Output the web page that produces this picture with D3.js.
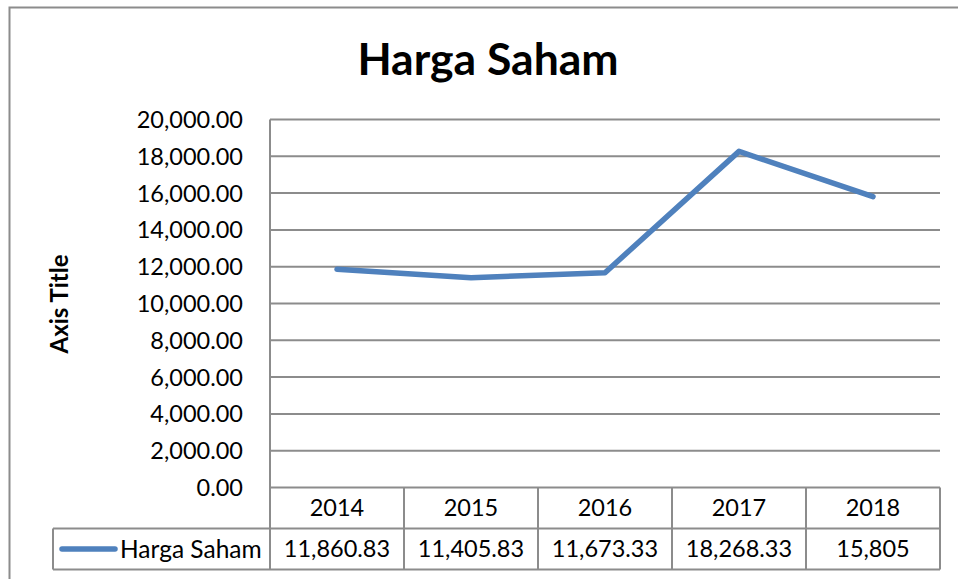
<!DOCTYPE html>
<html><head><meta charset="utf-8">
<script src="https://cdn.jsdelivr.net/npm/d3@7"></script>
<style>html,body{margin:0;padding:0;background:#fff;}svg{display:block;font-family:Lato,"Open Sans",sans-serif;}</style>
</head><body><svg id="c" width="958" height="579"></svg>
<script>
const title = "Harga Saham";
const seriesName = "Harga Saham";
const years = ["2014","2015","2016","2017","2018"];
const values = [11860.83, 11405.83, 11673.33, 18268.33, 15805];
const valueLabels = ["11,860.83","11,405.83","11,673.33","18,268.33","15,805"];
const yTicks = [0,2000,4000,6000,8000,10000,12000,14000,16000,18000,20000];
const yAxisTitle = "Axis Title";

const svg = d3.select("#c");
const L = 270, R = 940, T = 119.5, B = 487.5;
const rowH = 41;
const grid = "#8c8c8c", lineColor = "#4f81bd";

// outer border
svg.append("path").attr("d","M9.5,579 V7.5 H958").attr("fill","none").attr("stroke","#8c8c8c").attr("stroke-width",2);

const x = d3.scaleBand().domain(years).range([L,R]);
const y = d3.scaleLinear().domain([0,20000]).range([B,T]);

// gridlines
svg.append("g").selectAll("line").data(yTicks).join("line")
  .attr("x1",L).attr("x2",R).attr("y1",d=>y(d)).attr("y2",d=>y(d))
  .attr("stroke",grid).attr("stroke-width",2);

// y axis labels
const fmt = d3.format(",.2f");
svg.append("g").selectAll("text").data(yTicks).join("text")
  .attr("x",243).attr("y",d=>y(d)).attr("dy","0.36em").attr("text-anchor","end")
  .attr("font-size",23.5).attr("fill","#000").text(d=>fmt(d));

// axis title
svg.append("text").attr("transform","translate(68,304) rotate(-90)").attr("text-anchor","middle")
  .attr("font-size",24).attr("font-weight","bold").text(yAxisTitle);

// title
svg.append("text").attr("x",488).attr("y",75).attr("text-anchor","middle")
  .attr("font-size",44.5).attr("font-weight","bold").text(title);

// data table
const tb = svg.append("g");
tb.append("line").attr("x1",L).attr("x2",L).attr("y1",T).attr("y2",B+2*rowH).attr("stroke",grid).attr("stroke-width",2);
tb.selectAll(".v").data(years).join("line")
  .attr("x1",d=>x(d)+x.bandwidth()).attr("x2",d=>x(d)+x.bandwidth())
  .attr("y1",B).attr("y2",B+2*rowH).attr("stroke",grid).attr("stroke-width",2);
tb.append("line").attr("x1",53).attr("x2",R).attr("y1",B+rowH).attr("y2",B+rowH).attr("stroke",grid).attr("stroke-width",2);
tb.append("line").attr("x1",53).attr("x2",R).attr("y1",B+2*rowH).attr("y2",B+2*rowH).attr("stroke",grid).attr("stroke-width",2);
tb.append("line").attr("x1",53).attr("x2",53).attr("y1",B+rowH).attr("y2",B+2*rowH).attr("stroke",grid).attr("stroke-width",2);

tb.selectAll(".yr").data(years).join("text")
  .attr("x",d=>x(d)+x.bandwidth()/2).attr("y",B+rowH/2).attr("dy","0.36em")
  .attr("text-anchor","middle").attr("font-size",23.5).text(d=>d);
tb.selectAll(".val").data(valueLabels).join("text")
  .attr("x",(d,i)=>x(years[i])+x.bandwidth()/2).attr("y",B+rowH*1.5).attr("dy","0.36em")
  .attr("text-anchor","middle").attr("font-size",23.5).text(d=>d);
tb.append("line").attr("x1",62).attr("x2",115).attr("y1",B+rowH*1.5).attr("y2",B+rowH*1.5)
  .attr("stroke",lineColor).attr("stroke-width",5.5).attr("stroke-linecap","round");
tb.append("text").attr("x",120).attr("y",B+rowH*1.5).attr("dy","0.36em").attr("font-size",24.5).text(seriesName);

// line
const line = d3.line().x((d,i)=>x(years[i])+x.bandwidth()/2).y(d=>y(d));
svg.append("path").datum(values).attr("d",line).attr("fill","none")
  .attr("stroke",lineColor).attr("stroke-width",5.5).attr("stroke-linecap","round").attr("stroke-linejoin","round");
</script></body></html>
